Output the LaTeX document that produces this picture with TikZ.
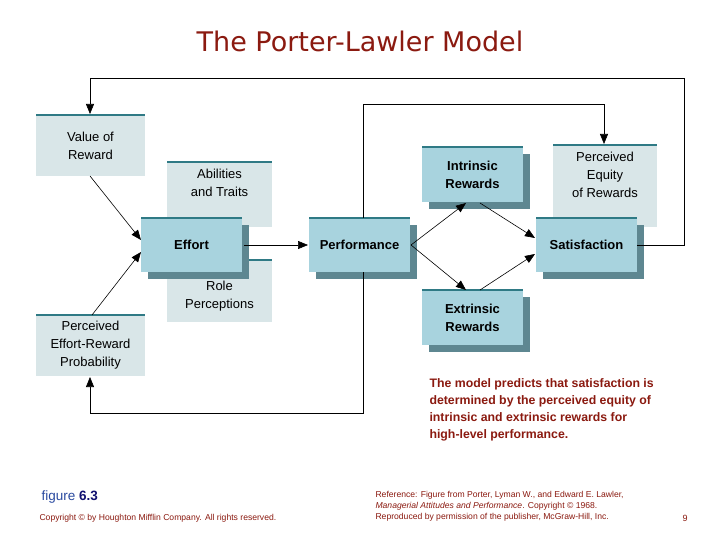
\documentclass[tikz,border=0pt]{standalone}
\usepackage{fontspec}
\setmainfont{Liberation Sans}
\newfontfamily\titlefont{DejaVu Sans}
\usetikzlibrary{arrows.meta}
\definecolor{lightbox}{HTML}{D9E6E8}
\definecolor{mainbox}{HTML}{A8D3DE}
\definecolor{shadowc}{HTML}{5E8791}
\definecolor{barc}{HTML}{2F7A85}
\definecolor{darkred}{HTML}{8B1A10}
\definecolor{figblue}{HTML}{2A4AA0}
\definecolor{numblue}{HTML}{101070}
\begin{document}
\begin{tikzpicture}[x=1pt,y=-1pt,
  arr/.style={-{Triangle[length=10pt,width=8pt]},line width=0.6pt}]
\useasboundingbox (0,0) rectangle (720,540);
\fill[white] (0,0) rectangle (720,540);
\node[font=\titlefont\fontsize{27}{30}\selectfont,text=darkred] (title) at (360,41) {The Porter-Lawler Model};
\newcommand{\lbx}[6]{%
 \fill[lightbox] (#1,#2) rectangle (#3,#4);
 \draw[barc,line width=1.6pt] (#1,#2) -- (#3,#2);
 \node[align=center,font=\fontsize{13}{18}\selectfont] (#5) at ({(#1+#3)/2},{(#2+#4)/2}) {#6};}
\newcommand{\mbx}[6]{%
 \fill[shadowc] (#1+7,#2+7) rectangle (#3+7,#4+7);
 \fill[mainbox] (#1,#2) rectangle (#3,#4);
 \draw[barc,line width=1.6pt] (#1,#2) -- (#3,#2);
 \node[align=center,font=\bfseries\fontsize{13}{18}\selectfont] (#5) at ({(#1+#3)/2},{(#2+#4)/2}) {#6};}
\lbx{36}{115}{145}{176}{vor}{Value of\\Reward}
\lbx{36}{315}{145}{376}{perp}{Perceived\\Effort-Reward\\Probability}
\lbx{167}{162}{272}{227}{abil}{Abilities\\and Traits\\[6pt]}
\lbx{167}{260}{272}{322}{role}{\\[2pt]Role\\Perceptions}
\lbx{553}{145}{657}{227}{equity}{Perceived\\Equity\\of Rewards\\[4pt]}
\mbx{141}{218}{242}{272}{effort}{Effort}
\mbx{309}{218}{410}{272}{perf}{Performance}
\mbx{422}{147}{523}{202}{intr}{Intrinsic\\Rewards}
\mbx{422}{290}{523}{345}{extr}{Extrinsic\\Rewards}
\mbx{536}{218}{637}{272}{sat}{Satisfaction}
\coordinate (vorb) at (90,176);
\coordinate (perpt) at (92,315);
\draw[arr] (vorb) -- (141,240);
\draw[arr] (perpt) -- (141,252);
\draw[arr] (244,245) -- (308,245);
\coordinate (split) at (411,245);
\draw[arr] (split) -- (466,203);
\draw[arr] (split) -- (466,290);
\draw[arr] (480,203) -- (535,238);
\draw[arr] (480,290) -- (535,254);
\draw[arr] (637,245) -- (684,245) -- (684,78) -- (90,78) -- (90,114);
\draw[arr] (363,218) -- (363,104) -- (604,104) -- (604,144);
\draw[arr] (363,272) -- (363,413) -- (90,413) -- (90,377);
\node[anchor=north west,align=left,text=darkred,font=\bfseries\fontsize{12.3}{17}\selectfont] (note) at (426,375) {The model predicts that satisfaction is\\determined by the perceived equity of\\intrinsic and extrinsic rewards for\\high-level performance.};
\node[anchor=west,font=\fontsize{13.5}{15}\selectfont] (fig) at (38,497) {\textcolor{figblue}{figure} \textcolor{numblue}{\bfseries 6.3}};
\node[anchor=west,text=darkred,font=\fontsize{8.6}{10}\selectfont] (copy) at (36,518) {Copyright © by Houghton Mifflin Company. All rights reserved.};
\node[anchor=north west,align=left,text=darkred,font=\fontsize{8.6}{11}\selectfont] (ref) at (372,488) {Reference: Figure from Porter, Lyman W., and Edward E. Lawler,\\\textit{Managerial Attitudes and Performance}. Copyright © 1968.\\Reproduced by permission of the publisher, McGraw-Hill, Inc.};
\node[text=darkred,font=\fontsize{9}{10}\selectfont] (pg) at (685,518) {9};
\end{tikzpicture}
\end{document}
